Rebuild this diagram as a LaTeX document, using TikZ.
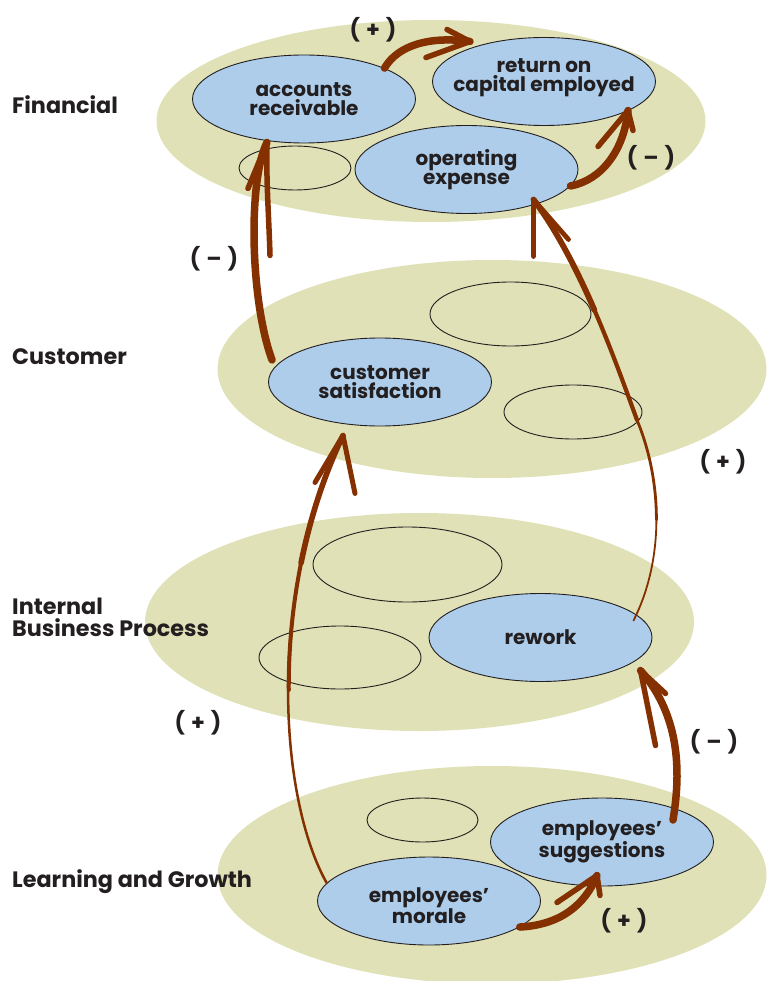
\documentclass[tikz,border=0pt]{standalone}
\usepackage{fontspec}
\setmainfont{Poppins}
\usetikzlibrary{shapes.geometric,calc}
\definecolor{olivebg}{RGB}{224,225,182}
\definecolor{blobblue}{RGB}{173,205,235}
\definecolor{arrbrown}{RGB}{132,48,0}
\definecolor{inkc}{RGB}{35,31,32}
\begin{document}
\begin{tikzpicture}[x=1pt,y=-1pt,
  persp/.style={ellipse, fill=olivebg, draw=none, inner sep=0pt, minimum width=549pt, minimum height=218pt},
  blob/.style={ellipse, fill=blobblue, draw=inkc, line width=0.9pt, inner sep=0pt, minimum width=223pt, minimum height=88pt},
  hollow/.style={ellipse, draw=inkc, line width=0.9pt, inner sep=0pt},
  txt/.style={font=\bfseries\fontsize{20}{19}\selectfont, text=inkc, align=center},
  lvl/.style={font=\bfseries\fontsize{22.3}{22}\selectfont, text=inkc, anchor=base west, inner sep=0pt},
  sign/.style={font=\bfseries\fontsize{22}{22}\selectfont, text=inkc, inner sep=0pt},
  shaft/.style={draw=arrbrown, line width=7.5pt, line cap=round},
  thinshaft/.style={draw=arrbrown, line width=2.5pt, line cap=round},
  barb/.style={draw=arrbrown, line width=5.5pt, line cap=round, line join=round}]
\useasboundingbox (0,0) rectangle (767,981);
\begin{scope}
\clip (0,0) rectangle (767,981);
% perspective layers
\node[persp, minimum height=202pt] (fin) at (431,121) {};
\node[persp] (cus) at (492,369) {};
\node[persp] (ibp) at (419.5,622) {};
\node[persp] (lag) at (492,875) {};
\end{scope}
% level names
\node[lvl] (lfin) at (12,114) {Financial};
\node[lvl] (lcus) at (12,364) {Customer};
\node[lvl] (libpa) at (12,614) {Internal};
\node[lvl] (libpb) at (12,636) {Business Process};
\node[lvl] (llag) at (12,887) {Learning and Growth};
% financial
\node[hollow, minimum width=112pt, minimum height=44pt] (f0) at (295,168) {};
\node[blob] (ar) at (304,99) {};
\node[txt] (arl) at (ar.center) {accounts\\receivable};
\node[blob] (roce) at (544,81.5) {};
\node[txt] (rocel) at ($(roce.center)+(0,-4)$) {return on\\capital employed};
\node[blob] (oe) at (466.5,169.5) {};
\node[txt] (oel) at (oe.center) {operating\\expense};
% customer
\node[hollow, minimum width=161pt, minimum height=64pt] (c1) at (510.5,314) {};
\node[hollow, minimum width=138pt, minimum height=54pt] (c2) at (573,412) {};
\node[blob] (cs) at (380,382) {};
\node[txt] (csl) at (cs.center) {customer\\satisfaction};
% internal business process
\node[hollow, minimum width=189pt, minimum height=75pt] (i1) at (407.5,564.5) {};
\node[hollow, minimum width=162pt, minimum height=63pt] (i2) at (340,657.5) {};
\node[blob] (rw) at (540.5,637.5) {};
\node[txt] (rwl) at (rw.center) {rework};
% learning and growth
\node[hollow, minimum width=111pt, minimum height=44pt] (g1) at (422.5,820) {};
\node[blob] (sg) at (602,842) {};
\node[txt] (sgl) at (sg.center) {employees’\\suggestions};
\node[blob] (mo) at (429,901) {};
\node[txt] (mol) at ($(mo.center)+(0,5)$) {employees’\\morale};
% connectors
% A1: accounts receivable -> return on capital employed (+)
\coordinate (t1) at ($(roce.center)+(-74,-40)$);
\draw[shaft] (ar.21) .. controls (398,45) and (430,36) .. (t1);
\draw[barb] ($(t1)+(-23,-12)$) -- (t1) -- ($(t1)+(-44,16)$);
% A2: operating expense -> return on capital employed (-)
\coordinate (t2) at ($(roce.center)+(84,29)$);
\draw[shaft] (oe.-9) .. controls (602,180) and (624,150) .. (t2);
\draw[barb] ($(t2)+(-30,36)$) -- (t2) -- ($(t2)+(5,20)$);
% A3: customer satisfaction -> accounts receivable (-)
\coordinate (s3) at ($(cs.west)+(4,-22)$);
\coordinate (t3) at ($(ar.south)+(-37,-1)$);
\draw[shaft] (s3) .. controls (250,300) and (248,180) .. (t3);
\draw[barb] ($(t3)+(-19,46)$) -- (t3) .. controls (266,180) and (269,220) .. ($(t3)+(3,113)$);
% A4: rework -> operating expense (+), tapering
\coordinate (s4) at ($(rw.center)+(93,-17)$);
\coordinate (t4) at ($(oe.center)+(67,30)$);
\draw[thinshaft, line width=1.8pt] (s4) .. controls (649,590) and (656.25,555) .. (656.4,520);
\draw[thinshaft, line width=2.8pt] (656.4,520) .. controls (656.5,485) and (649.5,450) .. (637,420);
\draw[thinshaft, line width=4.2pt] (637,420) .. controls (626,390) and (611.75,350) .. (594.4,310);
\draw[thinshaft, line width=5.8pt] (594.4,310) .. controls (577,270) and (556.5,230) .. (t4);
\draw[barb, line width=4.8pt] ($(t4)+(0,57)$) -- (t4) -- ($(t4)+(35,40)$);
% A5: employees' morale -> customer satisfaction (+), tapering
\coordinate (t5) at ($(cs.south)+(-37,9)$);
\draw[thinshaft] (mo.170) .. controls (280,800) and (265,600) .. (t5);
\draw[thinshaft, line width=4pt] (288.75,690) .. controls (288.5,649.4) and (292.3,606.3) .. (301.05,563);
\draw[thinshaft, line width=5.6pt] (301.05,563) .. controls (309.8,519.7) and (323.5,476.25) .. (t5);
\draw[barb, line width=5pt] ($(t5)+(-28,47)$) -- (t5) -- ($(t5)+(12,58)$);
% A6: employees' suggestions -> rework (-)
\coordinate (s6) at ($(sg.center)+(71,-22)$);
\coordinate (t6) at ($(rw.center)+(100,33)$);
\draw[shaft] (s6) .. controls (683,760) and (675,710) .. (t6);
\draw[barb] ($(t6)+(15,75)$) -- (t6) -- ($(t6)+(25,23)$);
% A7: employees' morale -> employees' suggestions (+)
\coordinate (t7) at ($(sg.south)+(-5,-11)$);
\draw[shaft] (mo.-16) .. controls (560,925) and (585,905) .. (t7);
\draw[barb] ($(t7)+(-40,27)$) -- (t7) -- ($(t7)+(3,20)$);
% signs
\node[sign] (p1) at (373,30) {(\hspace{6pt}+\hspace{6pt})};
\node[sign] (p2) at (651,158) {(\hspace{6pt}–\hspace{6pt})};
\node[sign] (p3) at (214,259) {(\hspace{6pt}–\hspace{6pt})};
\node[sign] (p4) at (723,462) {(\hspace{6pt}+\hspace{6pt})};
\node[sign] (p5) at (198,723) {(\hspace{6pt}+\hspace{6pt})};
\node[sign] (p6) at (714,742) {(\hspace{6pt}–\hspace{6pt})};
\node[sign] (p7) at (624,921) {(\hspace{6pt}+\hspace{6pt})};
\end{tikzpicture}
\end{document}
